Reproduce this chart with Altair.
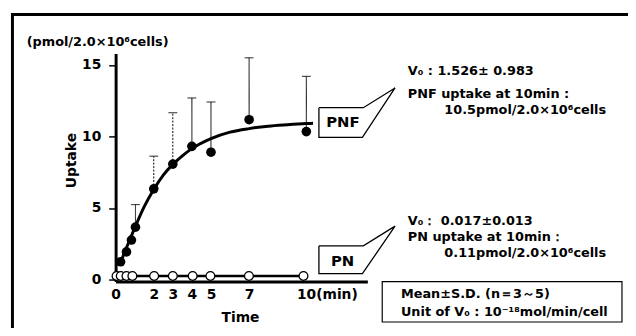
import altair as alt
import pandas as pd

# ---------------- data ----------------
# PNF (filled circles): time (min), mean uptake, S.D. (only upper bar drawn)
pnf_time = [0.26, 0.57, 0.83, 1.04, 2.0, 3.0, 4.0, 5.0, 7.0, 10.0]
pnf_mean = [1.24, 1.93, 2.76, 3.66, 6.34, 8.07, 9.31, 8.90, 11.17, 10.34]
pnf_sd = [0.0, 0.0, 0.0, 1.58, 2.28, 3.59, 3.38, 3.51, 4.33, 3.86]

# fitted PNF curve
fit_time = [0.25, 0.5, 0.75, 1.0, 1.5, 2.0, 2.5, 3.0, 3.5, 4.0, 5.0, 6.0, 7.0, 8.0, 9.0, 10.0, 10.35]
fit_val = [1.15, 2.0, 2.8, 3.6, 5.1, 6.3, 7.3, 8.05, 8.65, 9.15, 9.85, 10.3, 10.55, 10.72, 10.82, 10.9, 10.92]

# PN (open circles)
pn_time = [0.05, 0.27, 0.57, 0.88, 2.02, 3.0, 4.04, 4.97, 6.99, 9.85]
pn_mean = [0.25, 0.25, 0.25, 0.25, 0.25, 0.25, 0.25, 0.25, 0.25, 0.25]

x_ticks = [0, 2, 3, 4, 5, 7, 10]
y_ticks = [0, 5, 10, 15]

# callout outlines, in data units (time, uptake)
callout_t = [10.66, 12.99, 14.65, 12.94, 10.66, 10.66]
pnf_callout_v = [12.01, 12.01, 13.39, 9.94, 9.94, 12.01]
pn_callout_v = [2.35, 2.35, 3.73, 0.41, 0.41, 2.35]

box_labels = ["PNF", "PN"]
box_t = [11.92, 11.9]
box_v = [11.04, 1.28]

left_notes = ["V₀ : 1.526± 0.983", "PNF uptake at 10min :",
              "V₀：  0.017±0.013", "PN uptake at 10min：",
              "Mean±S.D. (n＝3～5)", "Unit of V₀ : 10⁻¹⁸mol/min/cell",
              "(pmol/2.0×10⁶cells)"]
left_t = [15.32, 15.32, 15.32, 15.32, 14.96, 14.96, -4.66]
left_v = [14.29, 12.70, 3.80, 2.69, -1.31, -2.55, 16.29]

right_notes = ["10.5pmol/2.0×10⁶cells", "0.11pmol/2.0×10⁶cells"]
right_t = [25.72, 25.72]
right_v = [11.59, 1.59]

legend_box_t = [13.98]
legend_box_t2 = [26.55]
legend_box_v = [-0.14]
legend_box_v2 = [-2.97]

# ---------------- tables ----------------
pnf = pd.DataFrame({"t": pnf_time, "v": pnf_mean, "sd": pnf_sd})
pnf["top"] = pnf["v"] + pnf["sd"]
bars = pnf[pnf["sd"] > 0].copy()
fit = pd.DataFrame({"t": fit_time, "v": fit_val})
pn = pd.DataFrame({"t": pn_time, "v": pn_mean})

callouts = pd.DataFrame({
    "t": callout_t + callout_t,
    "v": pnf_callout_v + pn_callout_v,
    "i": list(range(len(callout_t))) * 2,
    "box": ["PNF"] * len(callout_t) + ["PN"] * len(callout_t),
})
boxlab = pd.DataFrame({"t": box_t, "v": box_v, "label": box_labels})
lnotes = pd.DataFrame({"t": left_t, "v": left_v, "label": left_notes})
rnotes = pd.DataFrame({"t": right_t, "v": right_v, "label": right_notes})
legbox = pd.DataFrame({"t": legend_box_t, "t2": legend_box_t2,
                       "v": legend_box_v, "v2": legend_box_v2})

FONT = "DejaVu Sans"

x_scale = alt.Scale(domain=[0, 13.2], nice=False, zero=False)
y_scale = alt.Scale(domain=[-0.14, 15.8], nice=False, zero=False)

x_axis = alt.Axis(
    values=x_ticks, title="Time", titleX=126, titleY=40, titleAlign="center",
    titleBaseline="alphabetic", titleFontSize=14, titleFontWeight="bold", titleColor="black",
    grid=False, ticks=False, tickSize=0, domainWidth=3, domainColor="black",
    labelPadding=6, labelFontSize=14, labelFontWeight="bold", labelColor="black",
    labelFlush=False, labelOverlap=False,
    labelExpr="datum.value == 10 ? '10(min)' : datum.label",
    labelAlign={"condition": {"test": "datum.value == 10", "value": "left"}, "value": "center"},
    labelOffset={"condition": {"test": "datum.value == 10", "value": -10}, "value": 0},
)
y_axis = alt.Axis(
    values=y_ticks, title="Uptake", titleX=-45, titleY=108, titleAngle=270,
    titleAlign="center", titleBaseline="middle", titleFontSize=14,
    titleFontWeight="bold", titleColor="black",
    grid=False, domainWidth=3, domainColor="black", tickColor="black",
    tickSize=7, tickWidth=1.5, labelPadding=8, labelFontSize=14,
    labelFontWeight="bold", labelColor="black", labelFlush=False,
)

X = alt.X("t:Q", scale=x_scale, axis=x_axis)
Y = alt.Y("v:Q", scale=y_scale, axis=y_axis)

fit_line = alt.Chart(fit).mark_line(color="black", strokeWidth=3, interpolate="monotone").encode(x=X, y=Y)

err_rule = alt.Chart(bars).mark_rule(color="black", strokeWidth=1).encode(
    x=X, y=Y, y2="top:Q",
    strokeDash=alt.condition("datum.t == 2 || datum.t == 3", alt.value([2, 1.5]), alt.value([1, 0])),
)
err_cap = alt.Chart(bars).mark_tick(color="black", orient="horizontal", size=9, thickness=1.2).encode(
    x=X, y=alt.Y("top:Q", scale=y_scale, axis=y_axis)
)
pnf_pts = alt.Chart(pnf).mark_point(filled=True, color="black", size=95, opacity=1, shape="circle").encode(x=X, y=Y)

pn_line = alt.Chart(pn).mark_line(color="black", strokeWidth=2.5).encode(x=X, y=Y)
pn_pts = alt.Chart(pn).mark_point(filled=True, fill="white", stroke="black", strokeWidth=1.3,
                                  size=80, opacity=1, shape="circle").encode(x=X, y=Y)

callout_lines = alt.Chart(callouts).mark_line(color="black", strokeWidth=1.3).encode(
    x=X, y=Y, order="i:Q", detail="box:N")
callout_text = alt.Chart(boxlab).mark_text(font=FONT, fontSize=15, fontWeight="bold",
                                           align="center", baseline="middle", color="black").encode(
    x=X, y=Y, text="label:N")

left_text = alt.Chart(lnotes).mark_text(font=FONT, fontSize=13, fontWeight="bold",
                                        align="left", baseline="alphabetic", color="black").encode(
    x=X, y=Y, text="label:N")
right_text = alt.Chart(rnotes).mark_text(font=FONT, fontSize=13, fontWeight="bold",
                                         align="right", baseline="alphabetic", color="black").encode(
    x=X, y=Y, text="label:N")
legend_rect = alt.Chart(legbox).mark_rect(fill="white", stroke="black", strokeWidth=1.2).encode(
    x=X, x2="t2:Q", y=Y, y2="v2:Q")

# outer frame (top and left edges visible)
frame_top = alt.Chart(legbox).mark_rule(color="black", strokeWidth=3).encode(
    x=alt.value(-105), x2=alt.value(520), y=alt.value(-39.5))
frame_left = alt.Chart(legbox).mark_rule(color="black", strokeWidth=3).encode(
    x=alt.value(-104.5), y=alt.value(-41), y2=alt.value(300))

chart = alt.layer(
    legend_rect, frame_top, frame_left,
    err_rule, err_cap, fit_line, pnf_pts, pn_line, pn_pts,
    callout_lines, callout_text, left_text, right_text,
).properties(
    width=255, height=231,
    autosize=alt.AutoSizeParams(type="none"),
    padding={"left": 109, "top": 44, "right": 264, "bottom": 45},
).configure(font=FONT).configure_view(stroke=None)

chart.save("out.html", embed_options={"renderer": "svg", "actions": False})
